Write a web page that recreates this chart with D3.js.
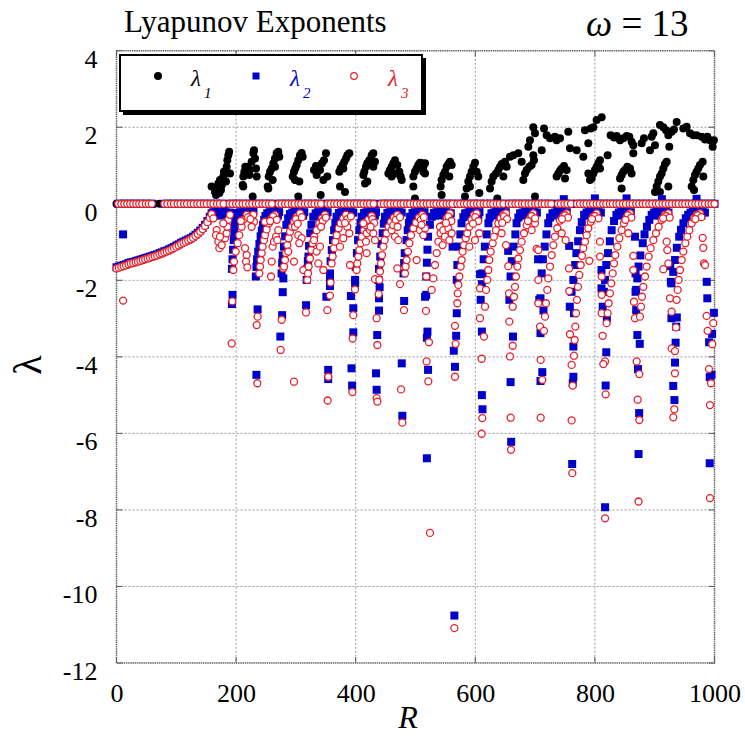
<!DOCTYPE html>
<html><head><meta charset="utf-8">
<script src="https://cdn.jsdelivr.net/npm/d3@7"></script>
<style>body{margin:0;background:#fff}svg{display:block}</style>
</head><body>
<svg id="chart" width="745" height="738"></svg>
<script>
// ---------------- DATA ----------------
const xTicks = [0, 200, 400, 600, 800, 1000];
const yTicks = [4, 2, 0, -2, -4, -6, -8, -10, -12];
const titleText = "Lyapunov Exponents";
const omegaValue = "13";
const seriesNames = ["1", "2", "3"];

// R values where lambda1 = 0
const lambda1ZeroR = [0,9,18,27,36,45,54,63,72,81,90,99,108,117,126,135,144,153,162,171,180,189,198,207,216,225,234,243,252,261,270,279,288,297,306,315,324,333,342,351,360,369,378,387,396,405,414,423,432,441,450,459,468,477,486,495,504,513,522,531,540,549,558,567,576,585,594,603,612,621,630,639,648,657,666,675,684,693,702,711,720,729,738,747,756,765,774,783,792,801,810,819,828,837,846,855,864,873,882,891,900,909,918,927,936,945,954,963,972,981,990,999];

// R values where lambda2 and lambda3 points lie on the zero line
const lambda23ZeroR = [3,8,13,18,23,28,33,38,43,49,54,59,80,85,91,96,102,107,113,118,124,129,135,140,146,151,157,162,168,173,179,189,194,200,205,211,216,222,227,233,238,244,249,255,260,271,276,282,287,293,298,304,309,315,320,326,331,337,342,353,358,364,369,375,380,386,391,397,402,408,413,419,424,430,442,447,453,458,464,469,475,480,486,491,497,502,508,513,519,524,530,535,541,546,552,557,562,570,575,581,586,592,597,603,608,614,619,625,630,636,641,647,656,661,667,672,678,683,689,694,700,705,711,716,722,727,738,743,749,754,760,770,775,781,786,792,797,803,808,814,819,825,830,836,841,847,852,858,863,869,874,880,885,891,896,902,907,913,918,924,929,935,940,946,951,957,962,968,973,979,984,990,995,1000];

// lambda1 (positive values), [R, lambda]
const lambda1Points = [
[159,0.45],[164.7,0.31],[167.5,0.40],[170.3,0.53],[173,0.62],[176,0.49],[178.6,0.71],[181.4,0.79],[184.2,0.97],[185.3,1.14],[187,1.27],[188.4,1.36],[189.8,0.79],[183,0.58],[166.4,0.23],[172,0.28],[179.7,0.84],[174.7,0.36],
[211,0.49],[212,0.71],[213.8,0.84],[215.4,0.97],[217.7,0.79],[219.3,0.97],[222,0.75],[226,1.10],[228.8,1.32],[229.9,1.40],[231.6,1.18],[234.4,0.71],[227.7,0.19],[233.3,0.92],[212,0.45],[223.2,0.88],
[252.8,0.45],[254.5,0.71],[256.7,0.84],[259.5,0.92],[262.3,1.06],[265,1.18],[267.8,1.32],[270.6,1.36],[272.3,1.23],[253.9,0.40],[265,0.97],[261.2,0.62],
[294.6,0.71],[296.8,0.84],[299,0.92],[301.3,1.01],[304,1.14],[306.8,1.27],[309.6,1.33],[311.3,1.23],[305.7,0.58],[304,0.19],[298.5,0.62],
[330.3,0.88],[333.6,0.99],[337.5,0.97],[340.3,0.88],[343.6,1.06],[347,1.14],[350.3,1.32],[352.5,0.71],[345.9,0.62],[341.4,0.23],[334.7,0.75],
[372.6,0.84],[374.8,0.92],[378.2,1.01],[381,1.10],[383.8,1.18],[386,1.27],[389.3,1.32],[373.7,0.45],[382.1,0.31],[379.3,0.92],
[412.8,0.75],[414.4,0.84],[417.2,0.97],[419.4,1.06],[422.8,1.14],[426.7,1.27],[429.5,1.32],[432.3,1.10],[415.5,0.53],[419.4,0.58],[429.5,0.97],
[454.6,0.79],[457.3,0.88],[460.1,0.97],[462.9,1.06],[465.7,1.14],[469.6,1.01],[473,0.84],[475.2,0.71],[467.4,0.79],[460.1,0.71],[476.9,0.62],
[496.4,0.71],[499.1,0.84],[501.9,0.92],[504.7,1.01],[507.5,1.07],[510.3,0.97],[513.1,0.84],[496.4,0.45],[499.1,0.14],[515.9,1.06],[510.3,1.06],[513,0.97],[515.9,0.79],
[542,0.45],[543.7,0.62],[546.5,0.75],[549.3,0.84],[552.1,0.97],[554.9,1.04],[557.7,1.10],[556.6,0.71],[560.5,1.01],[543.7,0.23],
[582.7,0.19],[585.5,0.40],[588.3,0.58],[591.1,0.71],[593.9,0.84],[596.7,0.97],[599.5,1.07],[602.3,0.84],[605,0.71],[606.7,0.28],[591.1,0.45],
[624.6,0.40],[627.3,0.58],[630.1,0.71],[634.6,0.79],[638.5,0.88],[641.3,0.97],[644.1,1.04],[649.6,1.10],[652.4,0.97],[636.8,0.14],[646.9,0.71],
[658,1.23],[663.6,1.27],[671.9,1.32],[677.5,1.10],[683.1,0.79],[685.9,0.88],[690.3,0.97],[694.2,1.01],[698.1,1.14],[699.8,0.19],[680.3,0.62],[688.7,1.49],[691.4,1.66],[697,2.00],[699.8,1.84],[697,1.27],
[711,1.40],[714.9,1.97],[719.3,1.79],[724.9,1.71],[733.2,1.75],[736,1.66],[741.6,1.71],[736,0.71],[738.8,0.79],[741.6,0.86],[744.4,0.92],[748.3,0.99],[752.8,0.88],[758.3,1.45],[755.5,1.88],[750,0.66],
[769.5,1.40],[780.6,1.23],[783.4,1.92],[789,1.58],[792.9,1.97],[797.4,2.00],[802.9,2.19],[811.3,2.26],[789,0.79],[791.8,0.62],[794.6,0.66],[797.4,0.79],[800.1,0.88],[802.9,0.97],[805.7,1.06],[808.5,1.14],[821.3,1.27],[808.5,0.92],
[826.3,1.79],[831.9,1.73],[836.4,1.77],[842,1.66],[847.5,1.71],[853.1,1.77],[857.5,1.75],[861.4,1.62],[842,0.66],[844.7,0.75],[847.5,0.84],[850.3,0.88],[854.2,0.97],[858.7,0.92],[861.4,0.79],[844.7,0.40],[864.2,1.32],[864.2,1.53],[878.2,1.58],
[882.1,1.71],[892.1,1.40],[894.9,1.75],[897.7,1.84],[900.5,1.53],[908.8,2.06],[914.4,2.00],[918.9,1.92],[922.8,1.79],[928.3,1.88],[932.2,1.94],[936.7,2.14],[924.4,1.49],[903.3,0.45],[906,0.58],[908.8,0.71],[911.6,0.79],[914.4,0.92],[917.2,1.04],[920,1.10],[908.8,0.31],[922.8,0.45],[900.5,0.31],
[947.8,1.97],[953.4,2.01],[959,1.84],[964.6,1.79],[970.1,1.79],[978.5,1.75],[984.1,1.68],[988,1.75],[992.4,1.66],[996.9,1.49],[999,1.66],[961.8,0.45],[964.6,0.62],[967.4,0.75],[970.1,0.84],[972.9,0.92],[975.7,1.01],[980.2,1.10],[981.3,0.71],[965.7,0.36]
];

// lambda2 (non-zero values), [R, lambda]
const lambda2Points = [
[0,-1.66],[4,-1.64],[8,-1.62],[12,-1.60],[16,-1.58],[20,-1.55],[24,-1.53],[28,-1.52],[32,-1.50],[36,-1.48],[40,-1.46],[44,-1.44],[48,-1.42],[52,-1.40],[56,-1.38],[60,-1.36],[64,-1.34],[68,-1.32],[72,-1.29],[76,-1.27],[80,-1.24],[84,-1.22],[88,-1.19],[92,-1.16],[96,-1.13],[100,-1.09],[104,-1.06],[108,-1.02],[112,-0.99],[116,-0.96],[120,-0.93],[124,-0.90],[128,-0.86],[132,-0.81],[136,-0.76],[140,-0.70],[144,-0.63],[148,-0.55],[152,-0.45],[156,-0.34],[159,-0.25],[162,-0.22],[166,-0.21],[170,-0.22],[174,-0.23],[178,-0.21],[182,-0.22],[186,-0.24],[190,-0.23],[11,-0.80],
[164,-0.30],[172,-0.31],[180,-0.29],[188,-0.31],
[193,-1.70],[194,-1.45],[195,-1.20],[196,-0.95],[197,-0.75],[198,-0.55],[199,-0.40],[200,-0.30],[203,-0.24],[207,-0.22],[211,-0.23],[215,-0.22],[219,-0.24],[223,-0.22],[227,-0.25],[194,-2.38],[193,-2.62],
[205,-0.31],[213,-0.30],[221,-0.31],[229,-0.18],
[233,-1.90],[234,-1.65],[235,-1.45],[237,-1.25],[239,-1.05],[241,-0.85],[243,-0.70],[245,-0.55],[247,-0.42],[249,-0.32],[252,-0.25],[256,-0.22],[260,-0.23],[264,-0.21],[268,-0.23],[272,-0.22],[236,-2.76],[234,-4.47],
[254,-0.31],[262,-0.30],[270,-0.31],
[276,-1.82],[277,-1.55],[278,-1.35],[280,-1.12],[282,-0.85],[284,-0.55],[287,-0.38],[290,-0.27],[294,-0.23],[298,-0.21],[302,-0.23],[306,-0.22],[310,-0.24],[314,-0.22],[279,-1.95],[278,-2.31],[277,-2.91],[274,-3.47],
[296,-0.31],[304,-0.30],[312,-0.31],
[318,-1.99],[319,-1.70],[320,-1.50],[321,-1.38],[322,-1.10],[324,-0.77],[326,-0.55],[329,-0.34],[333,-0.25],[337,-0.22],[341,-0.23],[345,-0.21],[349,-0.24],[353,-0.22],[317,-2.65],
[335,-0.31],[343,-0.30],[351,-0.31],
[357,-1.82],[358,-1.50],[360,-1.21],[362,-0.95],[364,-0.69],[366,-0.50],[368,-0.34],[372,-0.24],[376,-0.22],[380,-0.23],[384,-0.21],[388,-0.24],[392,-0.22],[396,-0.23],[357,-1.95],[357,-2.15],[351,-2.43],[354,-4.34],[354,-4.58],
[374,-0.31],[382,-0.30],[390,-0.31],
[399,-1.99],[400,-1.65],[402,-1.29],[404,-0.95],[406,-0.69],[408,-0.50],[410,-0.34],[414,-0.24],[418,-0.22],[422,-0.23],[426,-0.21],[430,-0.24],[434,-0.22],[399,-2.08],[392,-2.41],[396,-2.73],[396,-3.36],[393,-4.30],[394,-4.75],
[416,-0.31],[424,-0.30],[432,-0.31],
[438,-1.99],[439,-1.70],[441,-1.38],[443,-1.05],[445,-0.77],[447,-0.52],[449,-0.34],[453,-0.24],[457,-0.22],[461,-0.23],[465,-0.21],[469,-0.24],[473,-0.22],[477,-0.23],[440,-2.18],[439,-2.47],[439,-2.79],[436,-3.43],[434,-4.43],[435,-4.86],
[455,-0.31],[463,-0.30],[471,-0.31],
[480,-1.82],[481,-1.55],[482,-1.29],[485,-0.95],[487,-0.69],[489,-0.50],[491,-0.34],[495,-0.24],[499,-0.22],[503,-0.23],[507,-0.21],[511,-0.24],[515,-0.22],[481,-2.54],[477,-4.17],[478,-5.54],
[497,-0.31],[505,-0.30],[513,-0.31],
[516,-2.43],[518,-1.90],[519,-1.54],[520,-1.20],[521,-0.86],[524,-0.55],[527,-0.34],[531,-0.24],[535,-0.22],[539,-0.23],[543,-0.21],[547,-0.24],[551,-0.22],[555,-0.23],[559,-0.25],[518,-2.38],[520,-3.34],[519,-3.50],[521,-4.34],[519,-6.65],[562,-1.12],
[533,-0.31],[541,-0.30],[549,-0.31],[557,-0.30],
[569,-1.99],[570,-1.60],[573,-1.12],[575,-0.80],[577,-0.51],[580,-0.35],[583,-0.25],[587,-0.23],[591,-0.21],[595,-0.23],[599,-0.22],[603,-0.24],[607,-0.22],[569,-2.86],[568,-3.45],[564,-3.84],[566,-4.26],[565,-10.76],
[589,-0.31],[597,-0.30],[605,-0.31],
[609,-2.51],[611,-2.10],[612,-1.82],[614,-1.45],[616,-1.12],[619,-0.80],[622,-0.51],[624,-0.36],[627,-0.25],[631,-0.23],[635,-0.21],[639,-0.23],[643,-0.22],[647,-0.24],[651,-0.22],[608,-1.84],[611,-3.34],[611,-5.00],[612,-5.37],
[633,-0.31],[641,-0.30],[649,-0.31],
[657,-2.51],[659,-1.90],[661,-1.50],[664,-1.12],[667,-0.80],[669,-0.51],[672,-0.36],[675,-0.25],[679,-0.23],[683,-0.21],[687,-0.23],[691,-0.22],[695,-0.24],[699,-0.22],[703,-0.23],[655,-1.23],[663,-3.47],[659,-4.66],[660,-6.22],
[681,-0.31],[689,-0.30],[697,-0.31],
[707,-2.51],[711,-1.82],[713,-1.45],[716,-1.12],[719,-0.80],[722,-0.51],[725,-0.36],[729,-0.25],[733,-0.23],[737,-0.21],[741,-0.23],[745,-0.22],[749,-0.24],[753,-0.22],[705,-1.45],[709,-2.47],[714,-2.79],[709,-3.38],[712,-4.40],[709,-4.63],
[735,-0.31],[743,-0.30],[751,-0.31],
[758,-2.69],[761,-2.30],[764,-1.99],[767,-1.60],[769,-1.29],[772,-0.98],[775,-0.69],[778,-0.48],[782,-0.29],[786,-0.23],[790,-0.21],[794,-0.23],[798,-0.22],[802,-0.24],[806,-0.22],[810,-0.23],[757,-1.10],[765,-2.86],[764,-3.73],[764,-4.52],[763,-4.69],[762,-6.80],
[788,-0.31],[796,-0.30],[804,-0.31],
[813,-2.69],[815,-2.30],[817,-1.99],[819,-1.60],[822,-1.29],[825,-0.98],[828,-0.69],[832,-0.45],[836,-0.29],[840,-0.23],[844,-0.21],[848,-0.23],[852,-0.22],[856,-0.24],[860,-0.22],[811,-1.73],[811,-2.21],[820,-2.99],[819,-3.88],[818,-4.75],[817,-7.93],
[842,-0.31],[850,-0.30],[858,-0.31],
[869,-2.25],[871,-1.95],[873,-1.64],[876,-1.35],[880,-1.03],[883,-0.80],[887,-0.60],[891,-0.42],[895,-0.29],[899,-0.23],[903,-0.21],[907,-0.23],[911,-0.22],[915,-0.24],[919,-0.22],[923,-0.23],[867,-0.86],[868,-1.82],[868,-2.30],[869,-2.78],[871,-3.43],[875,-3.66],[872,-4.32],[874,-5.47],[873,-6.54],
[901,-0.31],[909,-0.30],[917,-0.31],
[928,-2.08],[931,-1.78],[934,-1.47],[937,-1.15],[941,-0.86],[944,-0.68],[948,-0.51],[952,-0.38],[956,-0.29],[960,-0.23],[964,-0.21],[968,-0.23],[972,-0.22],[976,-0.24],[980,-0.22],[984,-0.23],[926,-1.63],[927,-2.04],[928,-2.99],[937,-2.97],[936,-3.21],[935,-3.63],[934,-4.15],[931,-4.76],[933,-5.13],
[962,-0.31],[970,-0.30],[978,-0.31],
[987,-2.04],[988,-2.47],[999,-2.85],[996,-3.40],[991,-3.62],[995,-4.47],[992,-4.53],[992,-6.78],
[748,0.12],[800,0.14],[853,0.14],[912,0.12],[970,0.13]
];

// lambda3 (non-zero values), [R, lambda]
const lambda3Points = [
[0,-1.69],[4,-1.67],[8,-1.65],[12,-1.63],[16,-1.61],[20,-1.58],[24,-1.56],[28,-1.55],[32,-1.53],[36,-1.51],[40,-1.49],[44,-1.47],[48,-1.45],[52,-1.43],[56,-1.41],[60,-1.39],[64,-1.37],[68,-1.35],[72,-1.32],[76,-1.30],[80,-1.27],[84,-1.25],[88,-1.22],[92,-1.19],[96,-1.16],[100,-1.12],[104,-1.09],[108,-1.05],[112,-1.02],[116,-0.99],[120,-0.96],[124,-0.93],[128,-0.89],[132,-0.84],[136,-0.79],[140,-0.73],[144,-0.66],[148,-0.58],[152,-0.48],[156,-0.37],[159,-0.27],[11,-2.53],
[162,-0.38],[167.5,-0.69],[166.4,-0.82],[170.3,-0.99],[172,-1.16],[175.9,-1.08],[181.4,-0.90],[184.2,-0.77],[185.3,-0.60],[187,-0.42],[189.8,-0.29],[178.6,-0.51],[173,-0.86],
[193.7,-2.55],[192.6,-3.65],[195.4,-1.73],[196.5,-1.51],[199.3,-1.25],[202.6,-1.03],[205.4,-0.82],[209.3,-0.60],[212,-0.42],[217.7,-0.29],[214.9,-1.16],[217.7,-1.34],[216.6,-1.51],[218.8,-1.66],[228.8,-0.29],[229.9,-0.47],[226,-0.60],
[220,-0.35],[224,-0.40],[208,-0.45],
[236,-2.95],[234.4,-3.17],[235.5,-4.69],[238.8,-1.82],[240,-1.64],[241.1,-1.47],[242.8,-1.29],[244.4,-1.12],[246.7,-0.95],[248.3,-0.82],[251.1,-0.67],[255,-0.51],[259.5,-0.38],[265,-0.29],[261.1,-1.12],[263.4,-0.99],[266.7,-0.86],[268.9,-0.95],[259.5,-1.51],[258.4,-1.90],[279,-1.69],[270.6,-0.69],[248.3,-0.47],
[262,-0.33],[268,-0.42],[257,-0.45],
[276.2,-3.03],[274.5,-3.82],[296.8,-4.65],[280.1,-1.64],[281.8,-1.47],[283.4,-1.29],[285.7,-1.08],[287.9,-0.90],[290.1,-0.73],[293.5,-0.60],[296.8,-0.47],[301.3,-0.34],[306.8,-0.25],[287.3,-1.25],[296.8,-1.51],[304,-0.82],[309.6,-0.90],[305.7,-1.03],[312.4,-1.73],[298.5,-0.60],
[300,-0.40],[310,-0.35],[303,-0.52],
[316.9,-2.84],[319.1,-1.99],[320.2,-1.82],[321.3,-1.64],[323.6,-1.43],[325.8,-1.21],[328,-1.03],[330.8,-0.86],[334.7,-0.69],[339.2,-0.51],[343.6,-0.38],[348.7,-0.29],[334.7,-1.25],[340.3,-1.12],[345.9,-1.73],[337.5,-1.56],[330.3,-0.95],
[345,-0.45],[350,-0.36],[342,-0.60],
[358.1,-2.06],[357,-2.40],[352.5,-2.78],[354.2,-4.52],[353.1,-5.14],[359.8,-1.56],[361.5,-1.38],[363.7,-1.16],[365.9,-0.99],[368.2,-0.82],[371.5,-0.64],[374.8,-0.51],[379.3,-0.38],[383.8,-0.29],[373.7,-1.12],[379.3,-0.90],[386,-0.60],[390.5,-1.60],[389.3,-0.77],
[386,-0.40],[392,-0.33],[382,-0.50],
[398.8,-2.24],[396,-2.91],[394.9,-3.52],[394.4,-4.92],[401.6,-1.73],[402.7,-1.56],[404.4,-1.38],[406.1,-1.21],[408.3,-1.03],[410.5,-0.86],[413.9,-0.69],[417.2,-0.56],[421.1,-0.42],[426.7,-0.32],[412.8,-0.51],[418.3,-0.77],[423.9,-0.69],[429.5,-0.77],[432.3,-0.95],[418.3,-1.29],[417.2,-0.99],
[428,-0.40],[431,-0.50],[425,-0.60],
[438.4,-2.36],[435,-2.99],[436.2,-3.69],[435,-5.08],[436.2,-5.17],[432.3,-1.97],[439.5,-1.99],[440.6,-1.77],[442.3,-1.56],[444,-1.34],[446.2,-1.12],[448.4,-0.95],[451.8,-0.77],[455.1,-0.60],[459,-0.47],[464,-0.36],[469.6,-0.29],[460.1,-0.69],[465.7,-0.86],[471.3,-0.95],[462.9,-0.56],[469.6,-1.69],
[467,-0.42],[474,-0.35],[470,-0.60],
[475.8,-4.85],[478,-5.72],[480.7,-2.78],[474.1,-2.10],[482.4,-1.82],[483.5,-1.64],[485.2,-1.47],[487.4,-1.25],[489.7,-1.03],[492.5,-0.82],[496.4,-0.64],[500.8,-0.49],[505.8,-0.36],[511.4,-0.29],[501.9,-1.47],[507.5,-0.69],[513.1,-0.82],[515.9,-0.64],
[509,-0.42],[514,-0.35],[510,-0.55],
[517.5,-2.80],[522.5,-3.62],[518.6,-4.12],[521.4,-4.64],[524.2,-8.60],[518,-1.90],[527,-2.25],[529.8,-1.95],[532.6,-1.60],[535.4,-1.29],[538.2,-0.99],[542,-0.77],[546.5,-0.56],[552.1,-0.38],[557.7,-0.25],[541,-0.60],[546.5,-0.69],[554.9,-0.64],[560.5,-0.77],[549.3,-0.86],[556.6,-0.95],[545.4,-1.08],
[555,-0.33],[560,-0.45],[551,-0.50],
[566,-3.19],[567.1,-3.66],[566,-4.52],[565,-11.09],[569.9,-2.60],[570.5,-2.34],[571.6,-2.12],[573.3,-1.90],[575.5,-1.64],[577.2,-1.47],[578.8,-1.25],[581.1,-1.08],[583.9,-0.90],[586.6,-0.77],[590,-0.60],[593.9,-0.42],[597.8,-0.29],[602.3,-0.25],[606.7,-0.77],[590,-1.12],[599.5,-0.95],
[600,-0.35],[605,-0.45],[596,-0.52],
[614.5,-3.47],[610.6,-4.05],[611.7,-5.60],[610.6,-6.01],[607.8,-2.99],[607.8,-2.21],[616.2,-2.69],[617.9,-2.25],[620.1,-1.99],[621.8,-1.73],[623.4,-1.47],[625.7,-1.25],[629,-1.03],[631.2,-0.86],[634.6,-0.69],[638.5,-0.51],[642.4,-0.38],[646.9,-0.29],[651.3,-0.25],[651.3,-1.08],[655.2,-1.63],[644,-0.77],
[648,-0.33],[653,-0.40],[645,-0.50],
[656.3,-2.34],[656.9,-3.08],[658,-3.99],[662.5,-3.71],[659.1,-5.59],[659.7,-6.43],[662.5,-2.69],[664.7,-2.43],[666.4,-2.17],[668,-1.90],[670.3,-1.64],[671.9,-1.43],[674.7,-1.21],[677.5,-0.99],[681.4,-0.77],[685.9,-0.56],[691.4,-0.38],[697,-0.25],[702.6,-1.18],[705.4,-1.21],[694.2,-0.69],[699.8,-0.51],
[694,-0.32],[700,-0.38],[688,-0.45],
[705.4,-1.99],[705.4,-2.60],[708.2,-3.21],[709.3,-4.08],[712.1,-4.60],[709.3,-5.59],[714.9,-3.32],[716.5,-2.95],[718.2,-2.60],[720.4,-2.25],[722.1,-1.95],[724.9,-1.64],[727.7,-1.34],[730.5,-1.08],[733.2,-0.86],[737.1,-0.64],[741.6,-0.44],[747.2,-0.32],[752.8,-0.25],[751.1,-0.95],[744.4,-0.77],
[750,-0.30],[755,-0.36],[745,-0.40],
[756.7,-1.69],[757.2,-2.28],[758.3,-3.41],[762.8,-4.75],[761.1,-4.21],[761.1,-5.66],[762.2,-7.04],[765,-3.97],[766.1,-3.56],[767.3,-3.21],[768.4,-2.86],[770,-2.51],[771.7,-2.17],[773.9,-1.86],[776.2,-1.60],[778.4,-1.36],[780.6,-1.16],[783.4,-0.99],[786.2,-0.82],[789,-0.64],[792.9,-0.47],[797.4,-0.34],[802.9,-0.25],[790.7,-1.49],[808.5,-0.99],[808.5,-1.38],
[800,-0.32],[806,-0.38],[795,-0.40],
[811.3,-1.90],[811.3,-2.38],[811.3,-2.86],[813,-3.45],[816.9,-4.12],[814.1,-4.19],[818,-4.98],[817,-8.22],[819.6,-3.12],[821.3,-2.86],[823,-2.60],[825.2,-2.34],[827.4,-2.08],[829.7,-1.82],[831.9,-1.56],[834.1,-1.34],[837.5,-1.12],[840.8,-0.90],[844.7,-0.69],[848.6,-0.51],[853.1,-0.36],[858.7,-0.25],[864.2,-1.36],[864.2,-1.73],[855.9,-0.77],
[855,-0.30],[861,-0.36],[851,-0.42],
[865.3,-2.56],[867,-2.99],[869.8,-4.12],[874.3,-4.45],[871.5,-5.12],[874.3,-5.65],[873,-7.78],[875.4,-2.95],[877.1,-2.69],[878.7,-2.43],[881,-2.17],[883.8,-1.90],[886.5,-1.64],[889.9,-1.38],[893.2,-1.16],[897.7,-0.95],[902.1,-0.77],[906.6,-0.60],[911.6,-0.42],[917.2,-0.29],[922.8,-0.25],[920,-0.99],[921.1,-1.21],[922.8,-1.56],[914.4,-1.71],
[919,-0.32],[925,-0.36],[914,-0.38],
[925.6,-2.47],[928.3,-2.82],[928.3,-3.78],[933.9,-3.85],[935.6,-3.23],[933.9,-4.43],[932.8,-5.37],[931.1,-5.58],[936.7,-2.51],[938.4,-2.25],[940,-1.99],[942.3,-1.73],[945.1,-1.47],[947.8,-1.25],[951.2,-1.03],[954.5,-0.86],[957.9,-0.69],[961.8,-0.51],[965.7,-0.38],[970.1,-0.29],[975.7,-0.25],[980.2,-0.89],[981.3,-1.15],[982.4,-1.56],[984.1,-1.60],
[972,-0.30],[978,-0.35],[968,-0.40],
[986.9,-2.93],[998,-3.12],[988.5,-3.32],[996.3,-3.67],[990.8,-4.32],[994.1,-4.69],[992.4,-5.26],[992.4,-7.69]
];

// ---------------- DRAWING ----------------
const svg = d3.select("#chart");
const W = 745, H = 738;
const FONT = '"Liberation Serif", "Times New Roman", serif';
const x = d3.scaleLinear().domain([0, 1000]).range([116.5, 714.5]);
const y = d3.scaleLinear().domain([-12, 4]).range([663, 50.7]);
const blue = "#0000cc", red = "#e8202a";

svg.append("rect").attr("width", W).attr("height", H).attr("fill", "#fff");

// grid
const grid = svg.append("g");
grid.selectAll("line.v").data(xTicks.filter(d => d > 0 && d < 1000)).join("line")
  .attr("x1", d => x(d)).attr("x2", d => x(d)).attr("y1", y(4)).attr("y2", y(-12))
  .attr("stroke", "#9a9a9a").attr("stroke-width", 1).attr("stroke-dasharray", "2,2");
grid.selectAll("line.h").data(yTicks.filter(d => d > -12 && d < 4)).join("line")
  .attr("x1", x(0)).attr("x2", x(1000)).attr("y1", d => y(d)).attr("y2", d => y(d))
  .attr("stroke", "#9a9a9a").attr("stroke-width", 1).attr("stroke-dasharray", "2,2");

// axes (labels)
const yAxis = d3.axisLeft(y).tickValues(yTicks).tickSize(0).tickPadding(19).tickFormat(d => String(d));
const gy = svg.append("g").attr("transform", `translate(${x(0)},0)`).call(yAxis);
gy.select(".domain").remove();
gy.selectAll("text").style("font-family", FONT).style("font-size", "26px").attr("fill", "#000").attr("dy", 16.5);

const xAxis = d3.axisBottom(x).tickValues(xTicks).tickSize(0).tickFormat(d => String(d));
const gx = svg.append("g").attr("transform", `translate(0,${y(-12)})`).call(xAxis);
gx.select(".domain").remove();
gx.selectAll("text").style("font-family", FONT).style("font-size", "26px").attr("fill", "#000").attr("y", 39).attr("dy", 0);

// small inner ticks
const tk = svg.append("g").attr("stroke", "#555").attr("stroke-width", 1);
yTicks.forEach(d => {
  tk.append("line").attr("x1", x(0)).attr("x2", x(0) + 6).attr("y1", y(d)).attr("y2", y(d));
  tk.append("line").attr("x1", x(1000) - 6).attr("x2", x(1000)).attr("y1", y(d)).attr("y2", y(d));
});
xTicks.forEach(d => {
  tk.append("line").attr("x1", x(d)).attr("x2", x(d)).attr("y1", y(-12)).attr("y2", y(-12) - 6);
  tk.append("line").attr("x1", x(d)).attr("x2", x(d)).attr("y1", y(4)).attr("y2", y(4) + 6);
});

// frame
svg.append("rect").attr("x", x(0)).attr("y", y(4)).attr("width", x(1000) - x(0)).attr("height", y(-12) - y(4))
  .attr("fill", "none").attr("stroke", "#666").attr("stroke-width", 1.5).attr("stroke-dasharray", "1.5,0.7");

// points
const pts = svg.append("g");
const l1All = lambda1ZeroR.map(r => [r, 0]).concat(lambda1Points);
pts.append("g").selectAll("circle").data(l1All).join("circle")
  .attr("cx", d => x(d[0])).attr("cy", d => y(d[1])).attr("r", 4).attr("fill", "#000");

const l2All = lambda23ZeroR.map(r => [r, 0]).concat(lambda2Points);
const sq = 8;
pts.append("g").selectAll("rect").data(l2All).join("rect")
  .attr("x", d => x(d[0]) - sq / 2).attr("y", d => y(d[1]) - sq / 2)
  .attr("width", sq).attr("height", sq).attr("fill", blue);

const l3All = lambda23ZeroR.map(r => [r, 0]).concat(lambda3Points);
pts.append("g").selectAll("circle").data(l3All).join("circle")
  .attr("cx", d => x(d[0])).attr("cy", d => y(d[1])).attr("r", 3.5)
  .attr("fill", "#fff").attr("stroke", red).attr("stroke-width", 1.3);

// legend
const lg = svg.append("g");
lg.append("rect").attr("x", 123).attr("y", 58).attr("width", 303).attr("height", 57).attr("fill", "#000");
lg.append("rect").attr("x", 120).attr("y", 55).attr("width", 302).attr("height", 56)
  .attr("fill", "#fff").attr("stroke", "#000").attr("stroke-width", 2);
lg.append("circle").attr("cx", 158).attr("cy", 76).attr("r", 4).attr("fill", "#000");
lg.append("rect").attr("x", 256 - 3.5).attr("y", 76 - 3.5).attr("width", 7).attr("height", 7).attr("fill", blue);
lg.append("circle").attr("cx", 354).attr("cy", 76).attr("r", 3.3).attr("fill", "#fff").attr("stroke", red).attr("stroke-width", 1.2);
const legendItems = [{x: 191, c: "#000", s: seriesNames[0]}, {x: 290, c: blue, s: seriesNames[1]}, {x: 388, c: red, s: seriesNames[2]}];
legendItems.forEach(it => {
  lg.append("text").attr("x", it.x).attr("y", 86).style("font-family", FONT).style("font-style", "italic")
    .style("font-size", "23px").attr("fill", it.c).text("λ");
  lg.append("text").attr("x", it.x + 13).attr("y", 98).style("font-family", FONT).style("font-style", "italic")
    .style("font-size", "15px").attr("fill", it.c).text(it.s);
});

// titles
svg.append("text").attr("x", 124).attr("y", 32).style("font-family", FONT).style("font-size", "31px").attr("fill", "#000").text(titleText);
const om = svg.append("text").attr("x", 586).attr("y", 36).style("font-family", FONT).style("font-size", "37px").attr("fill", "#000");
om.append("tspan").style("font-style", "italic").text("ω");
om.append("tspan").text(" = " + omegaValue);

// axis labels
svg.append("text").attr("x", 408).attr("y", 728).attr("text-anchor", "middle").style("font-family", FONT)
  .style("font-style", "italic").style("font-size", "32px").attr("fill", "#000").text("R");
svg.append("text").attr("transform", "translate(41,365) rotate(-90)").attr("text-anchor", "middle")
  .style("font-family", FONT).style("font-size", "40px").attr("fill", "#000").text("λ");
</script>
</body></html>
